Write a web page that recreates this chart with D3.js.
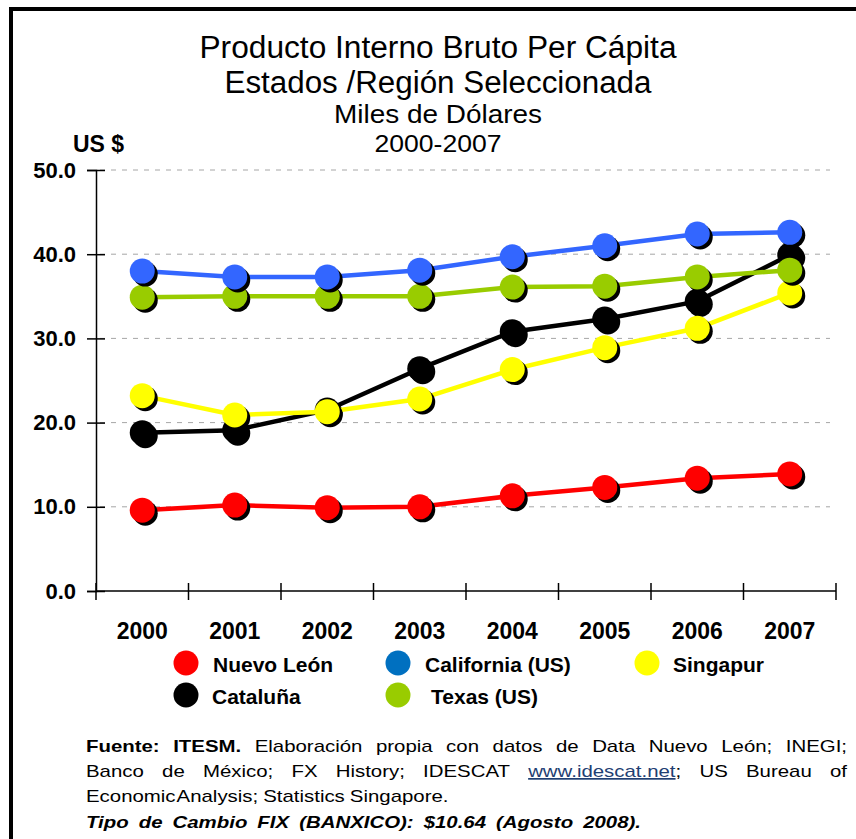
<!DOCTYPE html>
<html>
<head>
<meta charset="utf-8">
<script src="https://cdn.jsdelivr.net/npm/d3@7"></script>
<style>
  body { margin: 0; background: #fff; }
  svg { display: block; }
  .arial { font-family: "Liberation Sans", Arial, sans-serif; }
</style>
</head>
<body>
<svg id="chart" width="856" height="839"></svg>
<script>
// chart data
const years = ['2000', '2001', '2002', '2003', '2004', '2005', '2006', '2007'];
const nuevoLeon = [9.6, 10.2, 9.9, 10.0, 11.3, 12.3, 13.4, 13.9];
const california = [38.0, 37.3, 37.3, 38.1, 39.7, 41.0, 42.4, 42.6];
const singapur = [23.2, 20.9, 21.3, 22.8, 26.3, 28.9, 31.2, 35.4];
const cataluna = [18.8, 19.1, 21.5, 26.4, 30.8, 32.3, 34.4, 39.9];
const texas = [34.9, 35.0, 35.0, 35.0, 36.1, 36.2, 37.3, 38.1];
const yTicks = [0, 10, 20, 30, 40, 50];

const titleLines = ['Producto Interno Bruto Per Cápita', 'Estados /Región Seleccionada', 'Miles de Dólares', '2000-2007'];

// drawing order matters: later ones sit on top
const series = [
    {name: 'Nuevo León', values: nuevoLeon, color: '#FF0000', legend: '#FF0000'},
    {name: 'Cataluña', values: cataluna, color: '#000000', legend: '#000000'},
    {name: 'Singapur', values: singapur, color: '#FFFF00', legend: '#FFFF00'},
    {name: 'Texas (US)', values: texas, color: '#99CC00', legend: '#99CC00'},
    {name: 'California (US)', values: california, color: '#3366FF', legend: '#0070C0'}
];

const svg = d3.select('#chart');

// frame (only top and left edges are inside the picture)
svg.append('rect')
    .attr('x', 11).attr('y', 9)
    .attr('width', 1000).attr('height', 1000)
    .attr('fill', 'none').attr('stroke', '#000').attr('stroke-width', 4);

// titles - narrow look made by squeezing the glyphs
const titleInfo = [
    {y: 57.5, size: 31, w: 477},
    {y: 92.5, size: 31, w: 427},
    {y: 122.5, size: 25.5, w: 208},
    {y: 152, size: 24, w: 127}
];
titleLines.forEach((t, i) => {
    svg.append('text')
        .attr('class', 'arial')
        .attr('x', 438).attr('y', titleInfo[i].y)
        .attr('text-anchor', 'middle')
        .attr('font-size', titleInfo[i].size)
        .attr('textLength', titleInfo[i].w)
        .attr('lengthAdjust', 'spacingAndGlyphs')
        .text(t);
});

svg.append('text')
    .attr('class', 'arial')
    .attr('x', 73).attr('y', 152)
    .attr('font-size', 23).attr('font-weight', 'bold')
    .text('US $');

// scales
const x = d3.scaleBand().domain(years).range([96, 836]);
const y = d3.scaleLinear().domain([0, 50]).range([591, 170]);

// gridlines
svg.append('g')
    .selectAll('line')
    .data(yTicks.filter(d => d > 0))
    .join('line')
    .attr('x1', 100).attr('x2', 830)
    .attr('y1', d => y(d)).attr('y2', d => y(d))
    .attr('stroke', '#a6a6a6').attr('stroke-width', 1)
    .attr('stroke-dasharray', '5,6');

// y axis
const yAxis = svg.append('g')
    .attr('transform', 'translate(96,0)')
    .call(d3.axisLeft(y).tickValues(yTicks).tickFormat(d3.format('.1f')).tickSize(9).tickPadding(11));
yAxis.select('.domain').attr('stroke', '#000').attr('stroke-width', 1.5);
yAxis.selectAll('.tick line').attr('x2', 9).attr('x1', -9).attr('stroke', '#000').attr('stroke-width', 1.5);
yAxis.selectAll('.tick text')
    .attr('font-size', 22).attr('font-weight', 'bold').attr('fill', '#000')
    .attr('font-family', '"Liberation Sans", Arial, sans-serif');

// x axis: labels in band centres, ticks on band edges
const xAxis = svg.append('g')
    .attr('transform', 'translate(0,591)')
    .call(d3.axisBottom(x).tickSize(0).tickPadding(0));
xAxis.select('.domain').remove();
xAxis.selectAll('.tick text')
    .attr('y', 48).attr('dy', 0)
    .attr('font-size', 23).attr('font-weight', 'bold').attr('fill', '#000')
    .attr('font-family', '"Liberation Sans", Arial, sans-serif');

svg.append('line')
    .attr('x1', x.range()[0]).attr('x2', x.range()[1])
    .attr('y1', y(0)).attr('y2', y(0))
    .attr('stroke', '#000').attr('stroke-width', 1.5);
svg.append('g')
    .selectAll('line')
    .data(years.map(d => x(d)).concat([x.range()[1]]))
    .join('line')
    .attr('x1', d => d).attr('x2', d => d)
    .attr('y1', y(0) - 8).attr('y2', y(0) + 9)
    .attr('stroke', '#000').attr('stroke-width', 1.5);

// series
const cx = (d, i) => x(years[i]) + x.bandwidth() / 2;
const line = d3.line().x(cx).y(d => y(d));
const r = 12.5;

series.forEach(s => {
    const g = svg.append('g');
    g.append('path')
        .attr('d', line(s.values))
        .attr('fill', 'none')
        .attr('stroke', s.color)
        .attr('stroke-width', 4.5)
        .attr('stroke-linejoin', 'round');
    g.selectAll('circle.shadow')
        .data(s.values)
        .join('circle')
        .attr('class', 'shadow')
        .attr('cx', (d, i) => cx(d, i) + 3)
        .attr('cy', d => y(d) + 3)
        .attr('r', r)
        .attr('fill', '#000');
    g.selectAll('circle.dot')
        .data(s.values)
        .join('circle')
        .attr('class', 'dot')
        .attr('cx', cx)
        .attr('cy', d => y(d))
        .attr('r', r)
        .attr('fill', s.color);
});

// legend
const legendPos = {
    'Nuevo León': [186, 663, 213],
    'California (US)': [398, 663, 425],
    'Singapur': [647, 663, 673],
    'Cataluña': [186, 695, 212],
    'Texas (US)': [398, 695, 431]
};
series.forEach(s => {
    let p = legendPos[s.name];
    svg.append('circle')
        .attr('cx', p[0]).attr('cy', p[1]).attr('r', 12.5)
        .attr('fill', s.legend);
    svg.append('text')
        .attr('class', 'arial')
        .attr('x', p[2]).attr('y', p[1] + 9)
        .attr('font-size', 21).attr('font-weight', 'bold')
        .text(s.name);
});

// footer, laid out word by word so lines can be justified
// (the source text is a bit wider than plain Arial, so each word gets stretched)
const footer = [
    {y: 752, x1: 847, words: [
        [{t: 'Fuente:', b: true}], [{t: 'ITESM.', b: true}], [{t: 'Elaboración'}], [{t: 'propia'}], [{t: 'con'}],
        [{t: 'datos'}], [{t: 'de'}], [{t: 'Data'}], [{t: 'Nuevo'}], [{t: 'León;'}], [{t: 'INEGI;'}]]},
    {y: 777, x1: 847, words: [
        [{t: 'Banco'}], [{t: 'de'}], [{t: 'México;'}], [{t: 'FX'}], [{t: 'History;'}], [{t: 'IDESCAT'}],
        [{t: 'www.idescat.net', link: true}, {t: ';'}], [{t: 'US'}], [{t: 'Bureau'}], [{t: 'of'}]]},
    {y: 802, gaps: [1, 5, 5], words: [
        [{t: 'Economic'}], [{t: 'Analysis;'}], [{t: 'Statistics'}], [{t: 'Singapore.'}]]},
    {y: 828, x1: 641, words: [
        'Tipo', 'de', 'Cambio', 'FIX', '(BANXICO):', '$10.64', '(Agosto', '2008).'].map(w => [{t: w, b: true, it: true}])}
];
const stretch = 1.2;

const fg = svg.append('g').attr('class', 'arial').attr('font-size', 17);
footer.forEach(ln => {
    let nodes = ln.words.map(w => {
        let t = fg.append('text').attr('y', ln.y);
        w.forEach(seg => {
            let ts = t.append('tspan').text(seg.t);
            if (seg.b) ts.attr('font-weight', 'bold');
            if (seg.it) ts.attr('font-style', 'italic');
            if (seg.link) ts.attr('fill', '#1F3F73').attr('text-decoration', 'underline');
        });
        return t;
    });
    let widths = nodes.map(n => n.node().getComputedTextLength() * stretch);
    nodes.forEach((n, i) => n.attr('textLength', widths[i]).attr('lengthAdjust', 'spacingAndGlyphs'));
    let gap = ln.gaps ? null : (ln.x1 - 86 - d3.sum(widths)) / (nodes.length - 1);
    let pos = 86;
    nodes.forEach((n, i) => {
        n.attr('x', pos);
        pos += widths[i] + (ln.gaps ? (ln.gaps[i] || 0) : gap);
    });
});
</script>
</body>
</html>
